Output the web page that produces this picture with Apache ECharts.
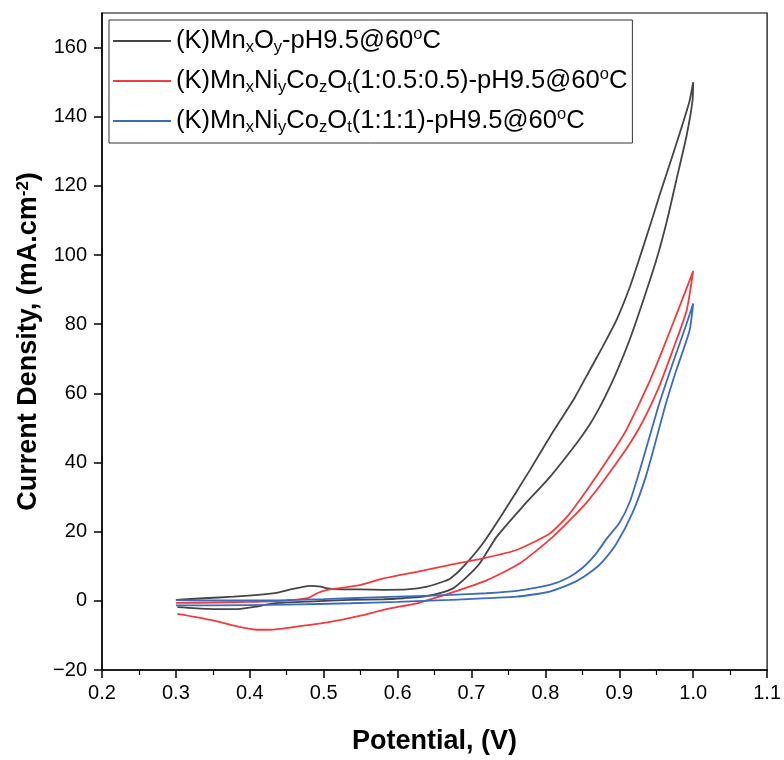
<!DOCTYPE html>
<html>
<head>
<meta charset="utf-8">
<script src="https://cdn.jsdelivr.net/npm/echarts@6/dist/echarts.min.js"></script>
<style>html,body{margin:0;padding:0;background:#fff}#c{width:784px;height:760px}</style>
</head>
<body>
<div id="c"></div>
<script>
// ---- data (Potential V, Current density mA/cm2), forward then reverse scan ----
const seriesNames = ['(K)MnxOy-pH9.5@60oC', '(K)MnxNiyCozOt(1:0.5:0.5)-pH9.5@60oC', '(K)MnxNiyCozOt(1:1:1)-pH9.5@60oC'];
const legendLabels = [
  '(K)Mn{sub|x}O{sub|y}-pH9.5@60{sup|o}C',
  '(K)Mn{sub|x}Ni{sub|y}Co{sub|z}O{sub|t}(1:0.5:0.5)-pH9.5@60{sup|o}C',
  '(K)Mn{sub|x}Ni{sub|y}Co{sub|z}O{sub|t}(1:1:1)-pH9.5@60{sup|o}C'
];
const seriesColors = ['#454545', '#f03c3c', '#3a6bbf'];

const mnoxForward = [[0.300,0.3],[0.338,0.75],[0.378,1.2],[0.415,1.8],[0.438,2.4],[0.455,3.3],[0.469,3.9],[0.482,4.3],[0.496,4.1],[0.505,3.6],[0.523,3.3],[0.550,3.3],[0.581,3.2],[0.613,3.3],[0.640,4.1],[0.662,5.6],[0.671,6.4],[0.689,9.9],[0.715,16.5],[0.742,25.2],[0.779,37.8],[0.806,47.4],[0.840,58.9],[0.860,66.7],[0.877,73.3],[0.896,81.1],[0.914,90.6],[0.931,101.5],[0.945,110.8],[0.954,117.0],[0.964,123.5],[0.981,134.7],[0.995,144.5],[1.000,150.0]];
const mnoxReverse = [[0.999,144.5],[0.991,134.5],[0.977,121.5],[0.964,109.5],[0.950,98.5],[0.931,86.0],[0.914,75.5],[0.896,66.0],[0.883,60.0],[0.873,55.8],[0.860,51.0],[0.842,45.5],[0.806,35.8],[0.769,27.2],[0.734,18.5],[0.711,10.8],[0.694,7.0],[0.675,3.6],[0.657,2.2],[0.635,1.2],[0.608,0.75],[0.581,0.46],[0.536,0.29],[0.480,-0.2],[0.440,-0.6],[0.424,-1.0],[0.411,-1.6],[0.384,-2.4],[0.343,-2.3],[0.302,-1.8]];

const nicoHalfForward = [[0.300,-0.6],[0.350,-0.5],[0.400,-0.3],[0.450,0.1],[0.478,0.75],[0.491,2.2],[0.505,3.2],[0.527,3.8],[0.550,4.6],[0.581,6.5],[0.626,8.4],[0.671,10.4],[0.716,12.3],[0.761,14.7],[0.806,19.5],[0.830,24.5],[0.856,32.0],[0.880,39.5],[0.900,46.0],[0.911,50.0],[0.941,63.5],[0.958,72.3],[0.981,84.8],[1.000,95.4]];
const nicoHalfReverse = [[0.991,83.9],[0.972,72.3],[0.952,61.0],[0.927,50.0],[0.900,41.0],[0.856,28.5],[0.810,18.5],[0.765,10.8],[0.721,6.0],[0.675,2.5],[0.630,-0.5],[0.581,-2.6],[0.550,-4.3],[0.505,-6.25],[0.459,-7.6],[0.428,-8.36],[0.410,-8.36],[0.383,-7.4],[0.347,-5.5],[0.302,-3.75]];

const nicoOneForward = [[0.300,0.2],[0.350,0.1],[0.400,0.1],[0.450,0.2],[0.500,0.5],[0.536,0.75],[0.600,1.2],[0.671,1.7],[0.720,2.2],[0.761,2.9],[0.806,4.6],[0.830,6.6],[0.850,9.5],[0.868,13.5],[0.883,18.0],[0.900,22.5],[0.914,28.5],[0.928,38.0],[0.941,47.5],[0.954,57.0],[0.972,68.5],[0.990,79.5],[1.000,86.0]];
const nicoOneReverse = [[0.995,78.1],[0.977,66.6],[0.963,57.0],[0.952,48.3],[0.936,36.0],[0.918,25.5],[0.896,16.5],[0.878,11.5],[0.864,8.8],[0.840,5.5],[0.806,2.7],[0.761,1.2],[0.671,0.3],[0.600,-0.3],[0.536,-0.7],[0.450,-1.1],[0.350,-1.3],[0.300,-1.3]];

const yTicks = [-20, 0, 20, 40, 60, 80, 100, 120, 140, 160];

const curves = [mnoxForward.concat(mnoxReverse), nicoHalfForward.concat(nicoHalfReverse), nicoOneForward.concat(nicoOneReverse)];

const chart = echarts.init(document.getElementById('c'), null, {renderer: 'canvas'});
const font = 'Liberation Sans, Arial, sans-serif';
const labelMap = {};
seriesNames.forEach((n, i) => labelMap[n] = legendLabels[i]);

chart.setOption({
  animation: false,
  backgroundColor: '#fff',
  textStyle: {fontFamily: font},
  grid: {left: 102, right: 16, top: 13, bottom: 83, show: true, borderColor: '#000', borderWidth: 1.2},
  legend: {
    orient: 'vertical', left: 109, top: 20,
    data: seriesNames,
    formatter: n => labelMap[n],
    icon: 'rect',
    itemWidth: 58, itemHeight: 2, itemGap: 10,
    padding: [6, 5, 7, 4],
    borderColor: '#333', borderWidth: 1,
    textStyle: {fontFamily: font, fontSize: 25.6, color: '#000', lineHeight: 30,
      rich: {
        sub: {fontFamily: font, fontSize: 16.5, color: '#000', verticalAlign: 'bottom'},
        sup: {fontFamily: font, fontSize: 16.5, color: '#000', verticalAlign: 'top'}
      }}
  },
  xAxis: {
    type: 'value', min: 0.2, max: 1.1, interval: 0.1,
    name: 'Potential, (V)', nameLocation: 'middle', nameGap: 58,
    nameTextStyle: {fontFamily: font, fontSize: 27, fontWeight: 'bold', color: '#000'},
    axisLine: {onZero: false, lineStyle: {color: '#000', width: 1.5}},
    axisTick: {length: 8, lineStyle: {color: '#000', width: 1.5}},
    minorTick: {show: true, splitNumber: 2, length: 5, lineStyle: {color: '#000', width: 1.2}},
    splitLine: {show: false},
    axisLabel: {fontFamily: font, fontSize: 20, color: '#000', margin: 13, formatter: v => v.toFixed(1)}
  },
  yAxis: {
    type: 'value', min: -20, max: 170, interval: 20,
    name: 'Current Density, (mA.cm{sup|-2})', nameLocation: 'middle', nameGap: 55,
    nameTextStyle: {fontFamily: font, fontSize: 27, fontWeight: 'bold', color: '#000',
      rich: {sup: {fontFamily: font, fontSize: 17, fontWeight: 'bold', color: '#000', verticalAlign: 'top'}}},
    axisLine: {onZero: false, lineStyle: {color: '#000', width: 1.5}},
    axisTick: {length: 8, customValues: yTicks, lineStyle: {color: '#000', width: 1.5}},
    splitLine: {show: false},
    axisLabel: {fontFamily: font, fontSize: 20, color: '#000', margin: 15, customValues: yTicks,
      formatter: v => (v < 0 ? '\u2212' + Math.abs(v) : String(v))}
  },
  series: curves.map((d, i) => ({
    name: seriesNames[i], type: 'line', data: d, showSymbol: false, symbol: 'none',
    smooth: 0.2, color: seriesColors[i],
    lineStyle: {color: seriesColors[i], width: 1.8}
  }))
});
</script>
</body>
</html>
